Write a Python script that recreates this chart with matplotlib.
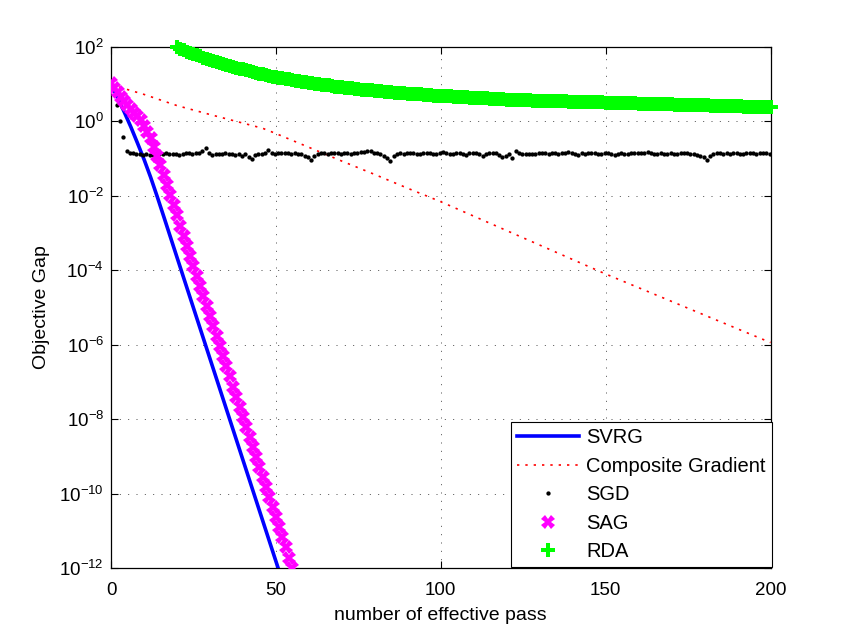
import numpy as np
import matplotlib
matplotlib.use("Agg")
import matplotlib.pyplot as plt

plt.rcParams['font.family'] = ['Liberation Sans', 'DejaVu Sans']
plt.rcParams['mathtext.fontset'] = 'custom'
plt.rcParams['mathtext.rm'] = 'Liberation Sans'

# SVRG (solid line), log10 of the objective gap
svrg_x = [0, 2, 4, 6, 8, 10, 12, 14, 16, 20, 30, 40, 51]
svrg_log = [1.0, 0.63, 0.25, -0.15, -0.58, -1.02, -1.50, -2.02, -2.56, -3.65,
            -6.37, -9.09, -12.08]

# Composite gradient (dotted line)
cg_x = [0, 10, 20, 30, 40, 46, 50, 60, 70, 80, 90, 100, 125, 150, 175, 200]
cg_log = [0.98, 0.72, 0.42, 0.18, -0.05, -0.19, -0.33, -0.70, -1.07, -1.43,
          -1.80, -2.16, -3.13, -4.10, -5.02, -5.94]

# SGD (dots), one per pass starting at 1.7
sgd_log = [0.44, 0.01, -0.42, -0.80, -0.85,
           -0.86, -0.88, -0.89, -0.90, -0.89, -0.91, -0.90, -0.88, -0.89, -0.87,
           -0.86, -0.88, -0.87, -0.89, -0.90, -0.88, -0.86, -0.85, -0.87, -0.86,
           -0.84, -0.80, -0.72, -0.84, -0.90, -0.88, -0.87, -0.89, -0.86, -0.88,
           -0.87, -0.90, -0.88, -0.92, -0.89, -0.96, -1.02, -0.90, -0.88, -0.87,
           -0.84, -0.77, -0.86, -0.87, -0.85, -0.86, -0.84, -0.86, -0.88, -0.85,
           -0.87, -0.89, -0.92, -0.97, -1.04, -0.93, -0.88, -0.85, -0.86, -0.87,
           -0.85, -0.84, -0.86, -0.88, -0.86, -0.85, -0.87, -0.86, -0.84, -0.82,
           -0.83, -0.81, -0.80, -0.84, -0.86, -0.88, -0.92, -0.98, -1.07, -0.92,
           -0.87, -0.86, -0.88, -0.86, -0.85, -0.84, -0.87, -0.89, -0.86, -0.84,
           -0.85, -0.87, -0.88, -0.86, -0.82, -0.85, -0.87, -0.88, -0.86, -0.85,
           -0.87, -0.90, -0.86, -0.84, -0.86, -0.89, -0.92, -0.88, -0.86, -0.84,
           -0.86, -0.91, -0.96, -0.92, -0.87, -1.00, -0.80, -0.85, -0.87, -0.88,
           -0.89, -0.88, -0.87, -0.86, -0.84, -0.86, -0.88, -0.86, -0.85, -0.87,
           -0.86, -0.84, -0.83, -0.86, -0.88, -0.90, -0.86, -0.87, -0.85, -0.84,
           -0.86, -0.88, -0.87, -0.85, -0.86, -0.89, -0.91, -0.87, -0.86, -0.88,
           -0.87, -0.86, -0.85, -0.84, -0.86, -0.84, -0.82, -0.85, -0.87, -0.88,
           -0.86, -0.87, -0.88, -0.86, -0.87, -0.88, -0.86, -0.85, -0.86, -0.87,
           -0.88, -0.90, -0.92, -0.97, -1.03, -0.92, -0.88, -0.86, -0.85, -0.87,
           -0.86, -0.87, -0.85, -0.86, -0.88, -0.87, -0.86, -0.85, -0.86, -0.87,
           -0.86, -0.85, -0.86, -0.87]

# SAG (x markers), one per pass 0..55
sag_log = [1.03, 0.90, 0.78, 0.66, 0.54, 0.43, 0.33, 0.23, 0.13, 0.02,
           -0.12, -0.28, -0.46, -0.68, -0.92, -1.18, -1.45, -1.72, -1.99, -2.26,
           -2.53, -2.80, -3.07, -3.34, -3.61, -3.88, -4.15, -4.42, -4.69, -4.96,
           -5.23, -5.50, -5.77, -6.04, -6.31, -6.58, -6.85, -7.12, -7.39, -7.66,
           -7.93, -8.20, -8.47, -8.74, -9.01, -9.28, -9.55, -9.82, -10.09, -10.36,
           -10.63, -10.90, -11.17, -11.44, -11.71, -11.98]

# RDA (+ markers), one per pass 20..200
rda_log = [1.98, 1.94, 1.90, 1.86, 1.83, 1.80, 1.77, 1.74, 1.71, 1.68,
           1.65, 1.62, 1.59, 1.57, 1.54, 1.51, 1.49, 1.46, 1.44, 1.41,
           1.39, 1.37, 1.35, 1.32, 1.30, 1.28, 1.26, 1.24, 1.22, 1.20,
           1.18, 1.16, 1.15, 1.13, 1.12, 1.10, 1.09, 1.07, 1.06, 1.04,
           1.03, 1.02, 1.01, 0.99, 0.98, 0.97, 0.96, 0.94, 0.93, 0.92,
           0.91, 0.90, 0.89, 0.88, 0.87, 0.86, 0.85, 0.84, 0.83, 0.83,
           0.82, 0.81, 0.80, 0.79, 0.78, 0.78, 0.77, 0.76, 0.76, 0.75,
           0.74, 0.74, 0.73, 0.72, 0.72, 0.71, 0.70, 0.70, 0.69, 0.69,
           0.68, 0.675, 0.67, 0.665, 0.66, 0.655, 0.65, 0.645, 0.64, 0.635,
           0.63, 0.625, 0.62, 0.615, 0.61, 0.605, 0.60, 0.595, 0.59, 0.585,
           0.58, 0.577, 0.574, 0.571, 0.568, 0.565, 0.562, 0.559, 0.556, 0.553,
           0.55, 0.548, 0.545, 0.543, 0.540, 0.538, 0.535, 0.533, 0.530, 0.528,
           0.525, 0.523, 0.520, 0.518, 0.515, 0.513, 0.510, 0.508, 0.505, 0.503,
           0.50, 0.498, 0.495, 0.493, 0.490, 0.488, 0.485, 0.483, 0.480, 0.478,
           0.475, 0.473, 0.470, 0.468, 0.465, 0.463, 0.460, 0.458, 0.455, 0.453,
           0.45, 0.448, 0.445, 0.443, 0.440, 0.438, 0.435, 0.433, 0.430, 0.428,
           0.425, 0.423, 0.420, 0.418, 0.415, 0.413, 0.410, 0.408, 0.405, 0.403,
           0.40, 0.397, 0.394, 0.391, 0.388, 0.385, 0.382, 0.379, 0.376, 0.373,
           0.37]

sgd_x = 1.7 + np.arange(len(sgd_log))
sag_x = np.arange(len(sag_log))
rda_x = 20 + np.arange(len(rda_log))

fig = plt.figure(figsize=(8.5, 6.39), dpi=100)
ax = fig.add_axes([0.1306, 0.1106, 0.7759, 0.8163])

ax.semilogy(svrg_x, 10.0 ** np.array(svrg_log), color='#0000FF', lw=2.6,
            label='SVRG', zorder=3)
ax.semilogy(cg_x, 10.0 ** np.array(cg_log), color='#FF0000', lw=1.2,
            linestyle=(0, (1.4, 3.6)), label='Composite Gradient', zorder=3)
ax.semilogy(sgd_x, 10.0 ** np.array(sgd_log), 'o', color='black', ms=3.1,
            mew=0, label='SGD', zorder=3)
ax.semilogy(sag_x, 10.0 ** np.array(sag_log), 'X', color='#FF00FF', ms=9.5,
            mew=0, label='SAG', zorder=4)
ax.semilogy(rda_x, 10.0 ** np.array(rda_log), 'P', color='#00FF00', ms=9.5,
            mew=0, label='RDA', zorder=4, clip_on=False)

ax.set_xlim(0, 200)
ax.set_ylim(1e-12, 1e2)
ax.set_xticks([0, 50, 100, 150, 200])
ax.set_yticks([10.0 ** k for k in range(-12, 3, 2)])
ax.yaxis.set_minor_locator(matplotlib.ticker.NullLocator())
ax.tick_params(which='both', direction='in', top=True, right=True,
               length=5, width=0.8, labelsize=13.5)
ax.tick_params(axis='x', pad=10)
ax.tick_params(axis='y', pad=5)
ax.grid(True, color='black', lw=0.6, linestyle=(0, (1.2, 8.8)), alpha=0.8)
for s in ax.spines.values():
    s.set_linewidth(0.9)

ax.set_xlabel('number of effective pass', fontsize=14)
ax.set_ylabel('Objective Gap', fontsize=14)
ax.xaxis.set_label_coords(0.5, -0.075)
ax.yaxis.set_label_coords(-0.092, 0.5)

leg = ax.legend(loc='lower right', bbox_to_anchor=(1.002, 0.002),
                fontsize=14.5, handlelength=3.1, handletextpad=0.35,
                borderaxespad=0.0, labelspacing=0.47, fancybox=False,
                framealpha=1, edgecolor='black', borderpad=0.3)
leg.get_frame().set_linewidth(0.8)

fig.savefig('out.png', dpi=100, facecolor='white')
